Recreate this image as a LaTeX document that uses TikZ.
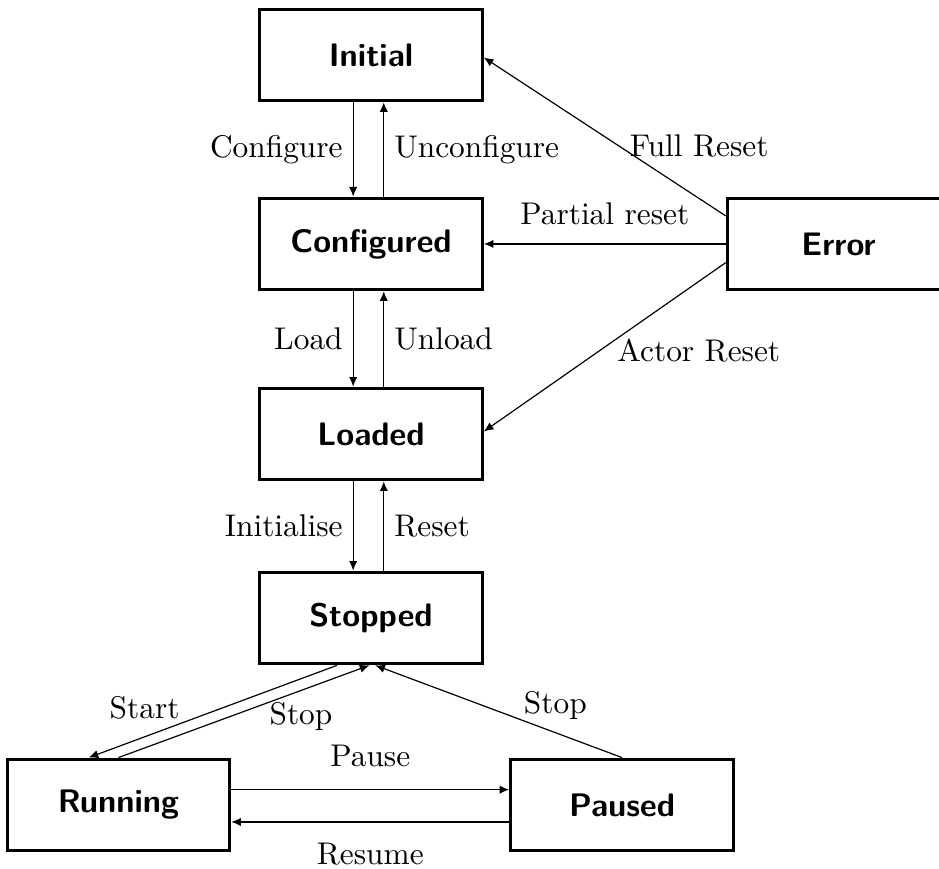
\documentclass[tikz,border=0pt]{standalone}
\usepackage{fontspec}
\usetikzlibrary{arrows.meta, positioning}

\tikzset{
	every node/.style={font=\fontsize{10.5}{12.6}\selectfont},
	stbox/.style={draw=black, line width=1pt, rectangle, minimum width=2.62cm, minimum height=1.08cm, font=\fontsize{10.9}{13}\selectfont\sffamily\bfseries},
	trans/.style={-{Latex[length=3.2pt, width=2.8pt]}},
}

\begin{document}
\begin{tikzpicture}
	\useasboundingbox (0, 0) rectangle (11.047, -10.212);
	\node[stbox] (Initial) at (4.365, -0.647) {Initial};
	\node[stbox] (Configured) at (4.365, -2.870) {Configured};
	\node[stbox] (Loaded) at (4.365, -5.106) {Loaded};
	\node[stbox] (Stopped) at (4.365, -7.270) {Stopped};
	\node[stbox] (Error) at (9.865, -2.870) {Error};
	\node[stbox] (Running) at (1.394, -9.470) {Running};
	\node[stbox] (Paused) at (7.318, -9.470) {Paused};
	\draw[trans]
	([xshift=-2.1mm]Initial.south) -- node[left] {Configure} ([xshift=-2.1mm]Configured.north);
	\draw[trans]
	([xshift=1.5mm]Configured.north) -- node[right] {Unconfigure} ([xshift=1.5mm]Initial.south);
	\draw[trans]
	([xshift=-2.1mm]Configured.south) -- node[left] {Load} ([xshift=-2.1mm]Loaded.north);
	\draw[trans]
	([xshift=1.5mm]Loaded.north) -- node[right] {Unload} ([xshift=1.5mm]Configured.south);
	\draw[trans]
	([xshift=-2.1mm]Loaded.south) -- node[left] {Initialise} ([xshift=-2.1mm]Stopped.north);
	\draw[trans]
	([xshift=1.5mm]Stopped.north) -- node[right] {Reset} ([xshift=1.5mm]Loaded.south);
	% error recovery
	\draw[trans]
	([yshift=3.3mm]Error.west) -- node[pos=0.44, right] {Full Reset} ([yshift=-0.3mm]Initial.east);
	\draw[trans]
	(Error.west) -- node[midway, above=1mm] {Partial reset} (Configured.east);
	\draw[trans]
	([yshift=-2.2mm]Error.west) -- node[pos=0.45, below right, inner sep=0pt] {Actor Reset} ([yshift=0.3mm]Loaded.east);
	% run control
	\draw[trans]
	([xshift=-0.4cm]Stopped.south) -- node[pos=0.62, above left, inner sep=1pt] {Start} ([xshift=-0.35cm]Running.north);
	\draw[trans]
	(Running.north) -- node[pos=0.6, below right, inner sep=0pt] {Stop} ([xshift=-0.02cm]Stopped.south);
	\draw[trans]
	(Paused.north) -- node[pos=0.4, above right, inner sep=0pt] {Stop} ([xshift=0.05cm]Stopped.south);
	\draw[trans]
	([yshift=1.8mm]Running.east) -- node[midway, above=1.5mm] {Pause} ([yshift=1.8mm]Paused.west);
	\draw[trans]
	([yshift=-2mm]Paused.west) -- node[midway, below=1.2mm] {Resume} ([yshift=-2mm]Running.east);
\end{tikzpicture}
\end{document}
